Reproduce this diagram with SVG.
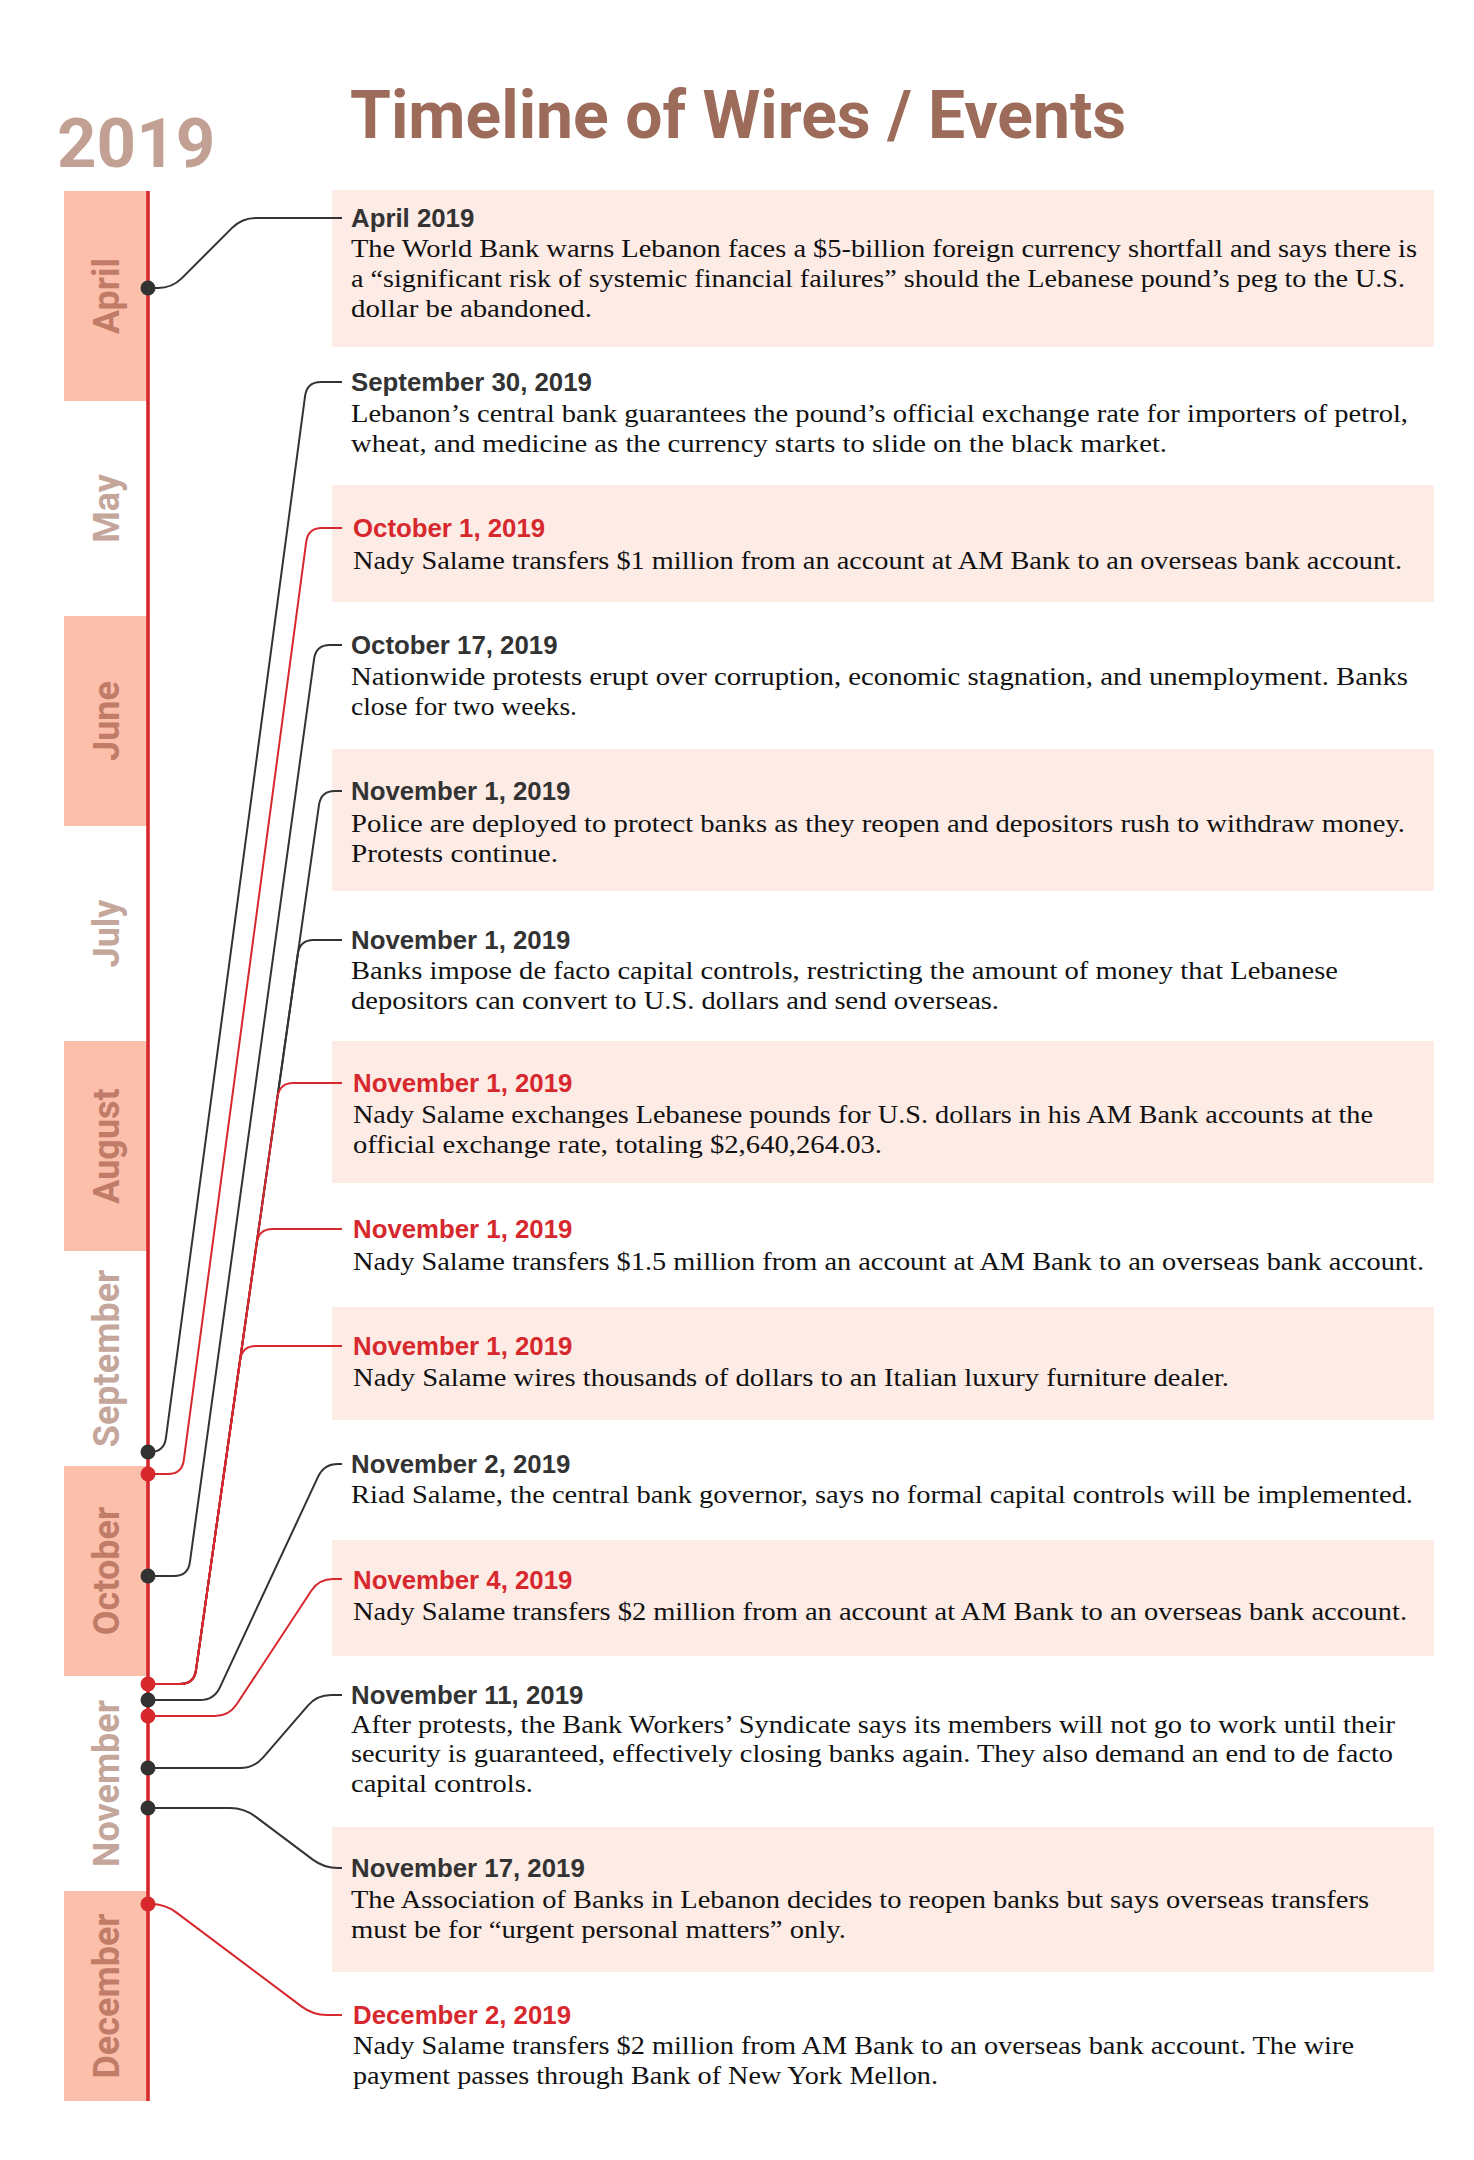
<svg xmlns="http://www.w3.org/2000/svg" width="1474" height="2160" viewBox="0 0 1474 2160">
<style>
.bg{fill:#ffffff}
.band{fill:#fbbfac}
.box{fill:#fdebe5}
.title{font-family:Roboto,"Liberation Sans",sans-serif;font-weight:700;font-size:66px;fill:#9d6b59}
.year{font-family:Roboto,"Liberation Sans",sans-serif;font-weight:700;font-size:69px;fill:#c2a194}
.month{font-family:Roboto,"Liberation Sans",sans-serif;font-weight:700;font-size:36px;text-anchor:middle}
.m-on{fill:#c17c68}
.m-off{fill:#c4a69b}
.date{font-family:"Liberation Sans",Arial,sans-serif;font-weight:700;font-size:25.8px;fill:#333333}
.date.red{fill:#d7282e}
.body{font-family:"Liberation Serif","Times New Roman",serif;font-size:26px;fill:#111111}
.conn{fill:none;stroke:#333333;stroke-width:2}
.conn.red{stroke:#d7282e}
.dot{fill:#333333}
.dot.red{fill:#d7282e}
.axis{stroke:#d7282e;stroke-width:3.6}
</style>
<rect class="bg" x="0" y="0" width="1474" height="2160"/>

<g id="header">
<text class="year" x="57" y="167">2019</text>
<text class="title" x="350" y="137.5">Timeline of Wires / Events</text>
</g>

<g id="months">
<rect class="band" x="64" y="191" width="84" height="210"/>
<rect class="band" x="64" y="616" width="84" height="210"/>
<rect class="band" x="64" y="1041" width="84" height="210"/>
<rect class="band" x="64" y="1466" width="84" height="210"/>
<rect class="band" x="64" y="1891" width="84" height="210"/>
<text class="month m-on" transform="translate(119,296) rotate(-90)">April</text>
<text class="month m-off" transform="translate(119,508.5) rotate(-90)">May</text>
<text class="month m-on" transform="translate(119,721) rotate(-90)">June</text>
<text class="month m-off" transform="translate(119,933.5) rotate(-90)">July</text>
<text class="month m-on" transform="translate(119,1146) rotate(-90)">August</text>
<text class="month m-off" transform="translate(119,1358.5) rotate(-90)">September</text>
<text class="month m-on" transform="translate(119,1571) rotate(-90)">October</text>
<text class="month m-off" transform="translate(119,1783.5) rotate(-90)">November</text>
<text class="month m-on" transform="translate(119,1996) rotate(-90)">December</text>
<line class="axis" x1="148" y1="191" x2="148" y2="2101"/>
</g>

<g id="event-apr-2019">
<rect class="box" x="332" y="190" width="1102" height="157"/>
<text class="date" x="351" y="227">April 2019</text>
<text class="body" x="351" y="257" textLength="1066" lengthAdjust="spacingAndGlyphs">The World Bank warns Lebanon faces a $5-billion foreign currency shortfall and says there is</text>
<text class="body" x="351" y="287" textLength="1054" lengthAdjust="spacingAndGlyphs">a “significant risk of systemic financial failures” should the Lebanese pound’s peg to the U.S.</text>
<text class="body" x="351" y="317" textLength="241" lengthAdjust="spacingAndGlyphs">dollar be abandoned.</text>
</g>

<g id="event-sep-30">
<text class="date" x="351" y="391">September 30, 2019</text>
<text class="body" x="351" y="422" textLength="1057" lengthAdjust="spacingAndGlyphs">Lebanon’s central bank guarantees the pound’s official exchange rate for importers of petrol,</text>
<text class="body" x="351" y="452" textLength="816" lengthAdjust="spacingAndGlyphs">wheat, and medicine as the currency starts to slide on the black market.</text>
</g>

<g id="event-oct-1">
<rect class="box" x="332" y="485" width="1102" height="117"/>
<text class="date red" x="353" y="537">October 1, 2019</text>
<text class="body" x="353" y="569" textLength="1049" lengthAdjust="spacingAndGlyphs">Nady Salame transfers $1 million from an account at AM Bank to an overseas bank account.</text>
</g>

<g id="event-oct-17">
<text class="date" x="351" y="654">October 17, 2019</text>
<text class="body" x="351" y="685" textLength="1057" lengthAdjust="spacingAndGlyphs">Nationwide protests erupt over corruption, economic stagnation, and unemployment. Banks</text>
<text class="body" x="351" y="715" textLength="226" lengthAdjust="spacingAndGlyphs">close for two weeks.</text>
</g>

<g id="event-nov-1-police">
<rect class="box" x="332" y="749" width="1102" height="142"/>
<text class="date" x="351" y="800">November 1, 2019</text>
<text class="body" x="351" y="832" textLength="1054" lengthAdjust="spacingAndGlyphs">Police are deployed to protect banks as they reopen and depositors rush to withdraw money.</text>
<text class="body" x="351" y="862" textLength="207" lengthAdjust="spacingAndGlyphs">Protests continue.</text>
</g>

<g id="event-nov-1-controls">
<text class="date" x="351" y="949">November 1, 2019</text>
<text class="body" x="351" y="979" textLength="987" lengthAdjust="spacingAndGlyphs">Banks impose de facto capital controls, restricting the amount of money that Lebanese</text>
<text class="body" x="351" y="1009" textLength="648" lengthAdjust="spacingAndGlyphs">depositors can convert to U.S. dollars and send overseas.</text>
</g>

<g id="event-nov-1-exchange">
<rect class="box" x="332" y="1041" width="1102" height="142"/>
<text class="date red" x="353" y="1092">November 1, 2019</text>
<text class="body" x="353" y="1123" textLength="1020" lengthAdjust="spacingAndGlyphs">Nady Salame exchanges Lebanese pounds for U.S. dollars in his AM Bank accounts at the</text>
<text class="body" x="353" y="1153" textLength="529" lengthAdjust="spacingAndGlyphs">official exchange rate, totaling $2,640,264.03.</text>
</g>

<g id="event-nov-1-transfer">
<text class="date red" x="353" y="1238">November 1, 2019</text>
<text class="body" x="353" y="1270" textLength="1071" lengthAdjust="spacingAndGlyphs">Nady Salame transfers $1.5 million from an account at AM Bank to an overseas bank account.</text>
</g>

<g id="event-nov-1-furniture">
<rect class="box" x="332" y="1307" width="1102" height="113"/>
<text class="date red" x="353" y="1355">November 1, 2019</text>
<text class="body" x="353" y="1386" textLength="876" lengthAdjust="spacingAndGlyphs">Nady Salame wires thousands of dollars to an Italian luxury furniture dealer.</text>
</g>

<g id="event-nov-2">
<text class="date" x="351" y="1473">November 2, 2019</text>
<text class="body" x="351" y="1503" textLength="1062" lengthAdjust="spacingAndGlyphs">Riad Salame, the central bank governor, says no formal capital controls will be implemented.</text>
</g>

<g id="event-nov-4">
<rect class="box" x="332" y="1540" width="1102" height="116"/>
<text class="date red" x="353" y="1589">November 4, 2019</text>
<text class="body" x="353" y="1620" textLength="1054" lengthAdjust="spacingAndGlyphs">Nady Salame transfers $2 million from an account at AM Bank to an overseas bank account.</text>
</g>

<g id="event-nov-11">
<text class="date" x="351" y="1704">November 11, 2019</text>
<text class="body" x="351" y="1733" textLength="1044" lengthAdjust="spacingAndGlyphs">After protests, the Bank Workers’ Syndicate says its members will not go to work until their</text>
<text class="body" x="351" y="1762" textLength="1042" lengthAdjust="spacingAndGlyphs">security is guaranteed, effectively closing banks again. They also demand an end to de facto</text>
<text class="body" x="351" y="1792" textLength="182" lengthAdjust="spacingAndGlyphs">capital controls.</text>
</g>

<g id="event-nov-17">
<rect class="box" x="332" y="1827" width="1102" height="145"/>
<text class="date" x="351" y="1877">November 17, 2019</text>
<text class="body" x="351" y="1908" textLength="1018" lengthAdjust="spacingAndGlyphs">The Association of Banks in Lebanon decides to reopen banks but says overseas transfers</text>
<text class="body" x="351" y="1938" textLength="495" lengthAdjust="spacingAndGlyphs">must be for “urgent personal matters” only.</text>
</g>

<g id="event-dec-2">
<text class="date red" x="353" y="2024">December 2, 2019</text>
<text class="body" x="353" y="2054" textLength="1001" lengthAdjust="spacingAndGlyphs">Nady Salame transfers $2 million from AM Bank to an overseas bank account. The wire</text>
<text class="body" x="353" y="2084" textLength="585" lengthAdjust="spacingAndGlyphs">payment passes through Bank of New York Mellon.</text>
</g>

<g id="connectors">
<path class="conn" d="M148,288 L158,288 Q172,288 181.9,278.1 L232.1,227.9 Q242,218 256,218 L342,218"/>
<path class="conn" d="M148,1452 L150,1452 Q164,1452 165.9,1438.1 L305.1,395.9 Q307,382 321,382 L342,382"/>
<path class="conn red" d="M148,1474 L168,1474 Q182,1474 183.8,1460.1 L306.2,541.9 Q308,528 322,528 L342,528"/>
<path class="conn" d="M148,1576 L174,1576 Q188,1576 189.9,1562.1 L314.1,658.9 Q316,645 330,645 L342,645"/>
<path class="conn" d="M148,1684 L180,1684 Q194,1684 196,1670.1 L319,804.9 Q321,791 335,791 L342,791"/>
<path class="conn" d="M148,1684 L180,1684 Q194,1684 196,1670.1 L297.8,953.9 Q299.8,940 313.8,940 L342,940"/>
<path class="conn red" d="M148,1684 L180,1684 Q194,1684 196,1670.1 L277.5,1096.9 Q279.5,1083 293.5,1083 L342,1083"/>
<path class="conn red" d="M148,1684 L180,1684 Q194,1684 196,1670.1 L256.7,1242.9 Q258.7,1229 272.7,1229 L342,1229"/>
<path class="conn red" d="M148,1684 L180,1684 Q194,1684 196,1670.1 L240.1,1359.9 Q242.1,1346 256.1,1346 L342,1346"/>
<path class="conn" d="M148,1700 L200,1700 Q214,1700 219.9,1687.3 L318.1,1476.7 Q324,1464 338,1464 L342,1464"/>
<path class="conn red" d="M148,1716 L215,1716 Q229,1716 236.7,1704.3 L311.3,1590.7 Q319,1579 333,1579 L342,1579"/>
<path class="conn" d="M148,1768 L240,1768 Q254,1768 263.2,1757.4 L307.9,1705.6 Q317,1695 331,1695 L342,1695"/>
<path class="conn" d="M148,1808 L230,1808 Q244,1808 255.2,1816.4 L312.8,1859.6 Q324,1868 338,1868 L342,1868"/>
<path class="conn red" d="M148,1904 L151,1904 Q165,1904 176.2,1912.4 L301.8,2006.6 Q313,2015 327,2015 L342,2015"/>
</g>

<g id="dots">
<circle class="dot" cx="148" cy="288" r="7.5"/>
<circle class="dot" cx="148" cy="1452" r="7.5"/>
<circle class="dot red" cx="148" cy="1474" r="7.5"/>
<circle class="dot" cx="148" cy="1576" r="7.5"/>
<circle class="dot red" cx="148" cy="1684" r="7.5"/>
<circle class="dot" cx="148" cy="1700" r="7.5"/>
<circle class="dot red" cx="148" cy="1716" r="7.5"/>
<circle class="dot" cx="148" cy="1768" r="7.5"/>
<circle class="dot" cx="148" cy="1808" r="7.5"/>
<circle class="dot red" cx="148" cy="1904" r="7.5"/>
</g>
</svg>
